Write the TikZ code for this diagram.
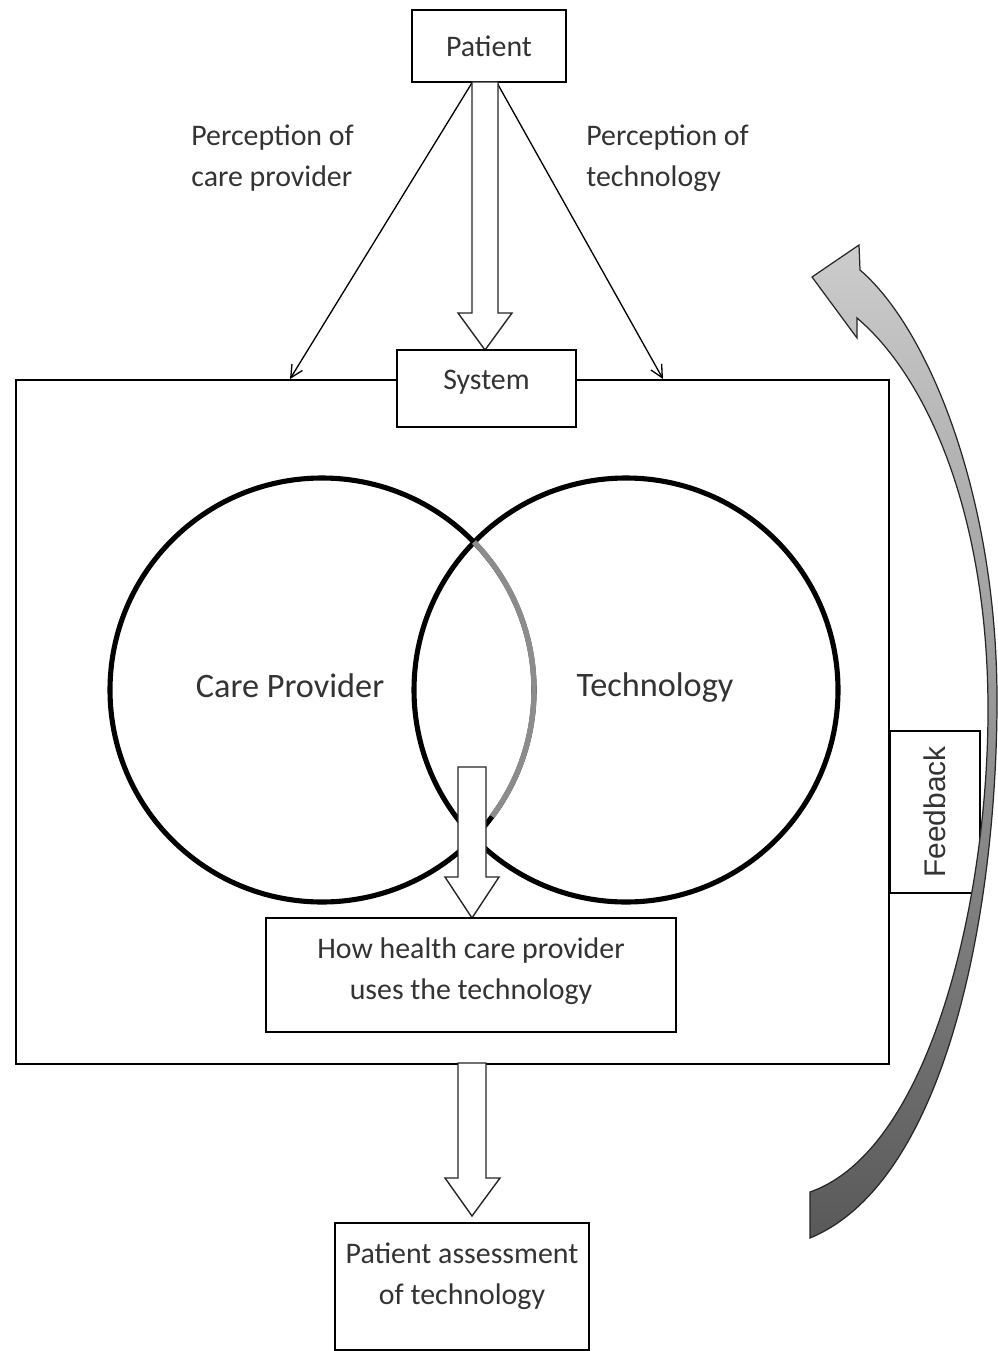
\documentclass[tikz,border=0pt]{standalone}
\usepackage{fontspec}
\setmainfont{Carlito}
\newfontfamily\arialfont{Liberation Sans}
\usetikzlibrary{arrows.meta,calc}
\begin{document}
\begin{tikzpicture}[x=0.02cm,y=-0.02cm,
  box/.style={draw=black, line width=0.9pt, fill=white, inner sep=0pt},
  lbl/.style={text=black!80, align=center, font=\fontsize{17}{23.3}\selectfont, inner sep=0pt},
  biglbl/.style={text=black!80, align=center, font=\fontsize{19.5}{24}\selectfont, inner sep=0pt},
  blockarrow/.style={draw=black!85, line width=0.8pt, fill=white, line join=miter},
  thinarrow/.style={draw=black, line width=0.75pt, -{Straight Barb[length=7pt,width=7pt]}},
  ring/.style={draw=black, line width=2.9pt}]
\useasboundingbox (0,0) rectangle (997,1351);

% main frame
\node[box, anchor=north west, minimum width=873*0.02cm, minimum height=684*0.02cm] (frame) at (15,379) {};

% patient
\node[box, lbl, minimum width=154*0.02cm, minimum height=72*0.02cm] (patient) at (489,46) {Patient};

% perception labels
\node[lbl, align=left, anchor=west] (pcare) at (191,158) {Perception of\\care provider};
\node[lbl, align=left, anchor=west] (ptech) at (586,158) {Perception of\\technology};

% thin arrows
\coordinate (cL) at (290,379);
\coordinate (cR) at (663,379);
\draw[thinarrow] ($(patient.south)+(-17,0)$) -- (cL);
\draw[thinarrow] ($(patient.south)+(8,0)$) -- (cR);

% block arrow patient -> system
\draw[blockarrow] (472,82) -- (498,82) -- (498,313) -- (512,313) -- (485,350) -- (458,313) -- (472,313) -- cycle;

% system
\node[box, minimum width=179*0.02cm, minimum height=77*0.02cm] (system) at (486.5,388.5) {};
\node[lbl] (systext) at (486.5,382) {System};

% circles
\draw[ring] (322,690) circle (212);
\draw[ring] (626,690) circle (212);
\draw[line width=3.1pt, draw=black!45] (474,542) arc[start angle=-44.2, end angle=36.7, radius=212];

\node[biglbl] (cptext) at (290,686) {Care Provider};
\node[biglbl] (techtext) at (655,688) {Technology};

% inner block arrow
\draw[blockarrow] (458,767) -- (486,767) -- (486,877) -- (499,877) -- (472,918) -- (445,877) -- (458,877) -- cycle;

% how box
\node[box, minimum width=410*0.02cm, minimum height=114*0.02cm] (how) at (471,975) {};
\node[lbl] (howtext) at (471,971) {How health care provider\\uses the technology};

% feedback box
\node[box, text=black!80, font=\arialfont\fontsize{17}{20}\selectfont, rotate=90, minimum width=162*0.02cm, minimum height=90*0.02cm] (feedback) at (935,812) {Feedback};

% bottom block arrow
\draw[blockarrow] (458,1063) -- (486,1063) -- (486,1178) -- (500,1178) -- (472,1216) -- (445,1178) -- (458,1178) -- cycle;

% assessment box
\node[box, minimum width=254*0.02cm, minimum height=127*0.02cm, anchor=north] (assess) at (462,1222) {};
\node[lbl] (assesstext) at (462,1276) {Patient assessment\\of technology};

% curved feedback arrow
\draw[line width=0.7pt, draw=black!85, top color=black!20, bottom color=black!65, line join=miter]
 (860,270) -- (859,245) -- (812,277) -- (857,338) -- (857,318)
 .. controls (930,380) and (988,520) .. (988,710)
 .. controls (988,900) and (930,1150) .. (810,1192)
 -- (810,1238)
 .. controls (950,1180) and (997,900) .. (997,700)
 .. controls (997,500) and (930,330) .. (860,270) -- cycle;
\end{tikzpicture}
\end{document}
